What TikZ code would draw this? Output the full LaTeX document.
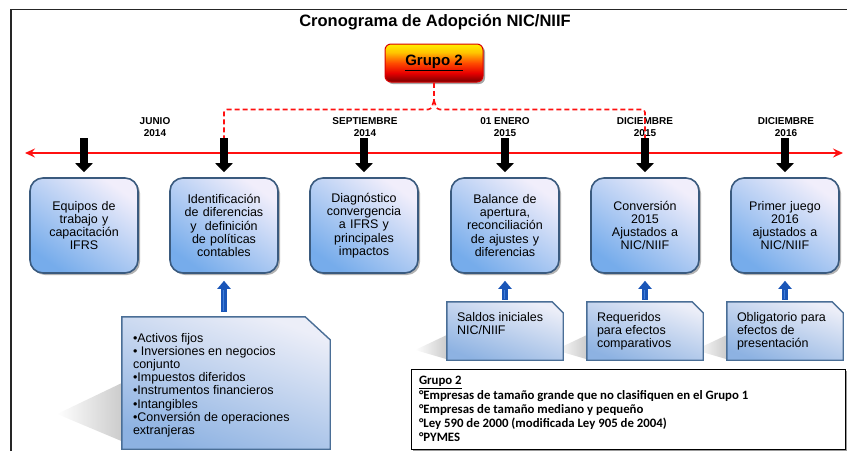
\documentclass[tikz,border=0pt]{standalone}
\usepackage{fontspec}
\setmainfont{Liberation Sans}
\newfontfamily\legendfont{Carlito}
\usetikzlibrary{arrows.meta,shadows,calc,backgrounds}

\definecolor{boxline}{HTML}{3A5A7E}
\definecolor{boxtop}{HTML}{F1EEFB}
\definecolor{boxbot}{HTML}{76ACEB}
\definecolor{noteline}{HTML}{4A6E96}
\definecolor{notetop}{HTML}{ECEEF8}
\definecolor{notebot}{HTML}{8DB2E2}
\definecolor{uparrowblue}{HTML}{1A56B8}
\definecolor{uplight}{HTML}{3F7EDC}
\definecolor{tlred}{HTML}{FF1010}
\definecolor{gdark}{HTML}{780000}
\definecolor{gred}{HTML}{E80000}
\definecolor{gorange}{HTML}{FF4A00}
\definecolor{gamber}{HTML}{FFC400}
\definecolor{gyellow}{HTML}{FFF000}

% badge fill: yellow on top, red in the middle, dark red at the base
\pgfdeclareverticalshading{badgeshade}{100bp}{%
  color(0bp)=(gdark); color(25bp)=(gdark); color(37bp)=(gred);
  color(50bp)=(gorange); color(64bp)=(gamber); color(75bp)=(gyellow);
  color(100bp)=(gyellow)}

\begin{document}
\begin{tikzpicture}[x=1pt,y=-1pt,
  stagebox/.style={rectangle, rounded corners=13pt, draw=boxline, line width=1.6pt,
    top color=boxtop, bottom color=boxbot, shading angle=-35,
    drop shadow={shadow xshift=2pt, shadow yshift=-2pt, opacity=0.3, fill=black},
    minimum width=108pt, minimum height=95pt, inner sep=0pt,
    text width=104pt, align=center, font=\fontsize{12.5}{13.3}\selectfont},
  notebox/.style={rectangle, inner sep=0pt, font=\fontsize{12.5}{13.2}\selectfont},
  notebody/.style={draw=noteline, line width=1.4pt, line join=miter,
    top color=notetop, bottom color=notebot, shading angle=-20},
  grupobox/.style={rectangle, rounded corners=6pt, draw=red!85!black, line width=1pt,
    shading=badgeshade,
    drop shadow={shadow xshift=2pt, shadow yshift=-2pt, opacity=0.35, fill=black},
    minimum width=98pt, minimum height=38pt, font=\bfseries\fontsize{15}{18}\selectfont},
  datelabel/.style={align=center, font=\bfseries\fontsize{10}{11.5}\selectfont},
  tickarrow/.style={line width=8.5pt, black, -{Triangle[length=9pt,width=17pt]}},
  uparrow/.style={line width=6pt, uparrowblue, -{Triangle[length=8pt,width=13pt]}},
  uphighlight/.style={line width=1.8pt, uplight},
  dashline/.style={tlred, line width=1.6pt, dash pattern=on 5pt off 3pt, rounded corners=3pt},
  castshadow/.style={left color=white, right color=black!40, opacity=0.5},
  legendbox/.style={draw=black, line width=1pt, fill=white, inner sep=0pt,
    drop shadow={shadow xshift=1.5pt, shadow yshift=-1.5pt, opacity=0.4, fill=black}}
]
\useasboundingbox (0,0) rectangle (847,451);

% outer frame (top and left sides)
\coordinate (fa) at (11,451);
\coordinate (fb) at (11,9.5);
\coordinate (fc) at (847,9.5);
\draw[line width=1.4pt, black!85] (fa) -- (fb) -- (fc);

% title
\node[font=\bfseries\fontsize{16.5}{19}\selectfont] (title) at (435,22) {Cronograma de Adopción NIC/NIIF};

% group badge
\node[grupobox] (g) at (434,63) {\underline{Grupo 2}};

% timeline
\coordinate (tl) at (25,153);
\coordinate (tr) at (843,153);
\draw[tlred, line width=1.6pt,
  {Stealth[length=10pt,width=9pt,inset=3.5pt]}-{Stealth[length=10pt,width=9pt,inset=3.5pt]}] (tl) -- (tr);

% date labels
\node[datelabel] (d1) at (155,127) {JUNIO\\2014};
\node[datelabel] (d3) at (365,127) {SEPTIEMBRE\\2014};
\node[datelabel] (d4) at (505,127) {01 ENERO\\2015};
\node[datelabel] (d5) at (645,127) {DICIEMBRE\\2015};
\node[datelabel] (d6) at (786,127) {DICIEMBRE\\2016};

% stage boxes
\node[stagebox] (b1) at (84,225.5)  {Equipos de\\trabajo y\\capacitación\\IFRS};
\node[stagebox] (b2) at (224,225.5) {Identificación\\de diferencias\\y ~definición\\de políticas\\contables};
\node[stagebox] (b3) at (364,225.5) {Diagnóstico\\convergencia\\a IFRS y\\principales\\impactos};
\node[stagebox] (b4) at (505,225.5) {Balance de\\apertura,\\reconciliación\\de ajustes y\\diferencias};
\node[stagebox] (b5) at (645,225.5) {Conversión\\2015\\Ajustados a\\NIC/NIIF};
\node[stagebox] (b6) at (785,225.5) {Primer juego\\2016\\ajustados a\\NIC/NIIF};

% tick points on the timeline
\coordinate (k1) at (84,138);
\coordinate (k2) at (224,138);
\coordinate (k3) at (364,138);
\coordinate (k4) at (505,138);
\coordinate (k5) at (645,138);
\coordinate (k6) at (785,138);

% dashed link from the badge, forking to the first and last affected milestones
\draw[dashline] (g.south) -- ++(0,18) coordinate (fork);
\draw[dashline] (fork) -- ++(-3,9) -| (k2);
\draw[dashline] (fork) -- ++(3,9) -| (k5);

% milestone arrows
\foreach \i in {1,...,6}
  \draw[tickarrow, shorten >=5pt] (k\i) -- (b\i.north);

% notes (text; the folded-corner bodies are drawn behind them)
\node[notebox, minimum width=208pt, minimum height=132pt] (c2) at (226,383)
  {\parbox[c][100pt][t]{186pt}{\raggedright
    •Activos fijos\\
    • Inversiones en negocios\\
    conjunto\\
    •Impuestos diferidos\\
    •Instrumentos financieros\\
    •Intangibles\\
    •Conversión de operaciones\\
    extranjeras}};
\node[notebox, minimum width=116pt, minimum height=58pt] (s4) at (505,331)
  {\parbox[c][38pt][t]{96pt}{\raggedright Saldos iniciales\\NIC/NIIF}};
\node[notebox, minimum width=116pt, minimum height=58pt] (s5) at (645,331)
  {\parbox[c][38pt][t]{96pt}{\raggedright Requeridos\\para efectos\\comparativos}};
\node[notebox, minimum width=116pt, minimum height=58pt] (s6) at (785,331)
  {\parbox[c][38pt][t]{96pt}{\raggedright Obligatorio para\\efectos de\\presentación}};

\begin{scope}[on background layer]
  % cast shadows
  \shade[castshadow] (57,414) -- (c2.west) -- ($(c2.south west)+(0,-8)$) -- cycle;
  \shade[castshadow] (415,350) -- ($(s4.west)+(0,4)$) -- ($(s4.south west)+(0,-1)$) -- cycle;
  \shade[castshadow] (555,350) -- ($(s5.west)+(0,4)$) -- ($(s5.south west)+(0,-1)$) -- cycle;
  \shade[castshadow] (695,350) -- ($(s6.west)+(0,4)$) -- ($(s6.south west)+(0,-1)$) -- cycle;
  % note bodies with a cut top-right corner
  \path[notebody] (c2.north west) -- ([xshift=-25pt]c2.north east)
    -- ($(c2.north east)+(0,23)$) -- (c2.south east) -- (c2.south west) -- cycle;
  \foreach \n in {s4,s5,s6}
    \path[notebody] (\n.north west) -- ([xshift=-11pt]\n.north east)
      -- ($(\n.north east)+(0,11)$) -- (\n.south east) -- (\n.south west) -- cycle;
\end{scope}

% note arrows (shaft highlight drawn on top)
\draw[uparrow, shorten <=5pt, shorten >=7pt] (b2.south |- c2.north) -- (b2.south);
\draw[uphighlight, shorten <=6pt, shorten >=16pt] ([xshift=-0.5pt]b2.south |- c2.north) -- ([xshift=-0.5pt]b2.south);
\foreach \i in {4,5,6} {
  \draw[uparrow, shorten <=2pt, shorten >=7pt] (s\i.north) -- (b\i.south);
  \draw[uphighlight, shorten <=3pt, shorten >=16pt] ([xshift=-0.5pt]s\i.north) -- ([xshift=-0.5pt]b\i.south);
}

% group legend
\node[legendbox, minimum width=434pt, minimum height=80pt] (leg) at (628,409.5)
  {\parbox[c][66pt][t]{418pt}{\legendfont\bfseries\fontsize{12.8}{14.2}\selectfont
    \underline{Grupo 2}\\
    °Empresas de tamaño grande que no clasifiquen en el Grupo 1\\
    °Empresas de tamaño mediano y pequeño\\
    °Ley 590 de 2000 (modificada Ley 905 de 2004)\\
    °PYMES}};
\end{tikzpicture}
\end{document}
